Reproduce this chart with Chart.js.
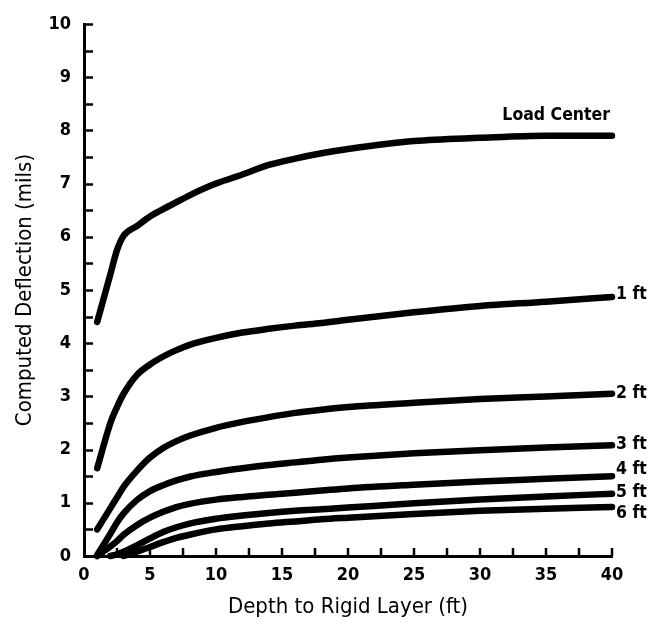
<!DOCTYPE html>
<html>
<head>
<meta charset="utf-8">
<script src="https://cdn.jsdelivr.net/npm/chart.js@4.4.1/dist/chart.umd.min.js"></script>
<style>
  html, body { margin: 0; padding: 0; background: #fff; }
  #wrap { width: 654px; height: 625px; }
</style>
</head>
<body>
<div id="wrap"><canvas id="c" width="654" height="625"></canvas></div>
<script>
// ---- data ----
const depths = [1, 2, 2.5, 3, 4, 5, 6, 7, 8, 10, 12, 14, 16, 18, 20, 25, 30, 35, 40];
const loadCenter = [4.4, 5.3, 5.75, 6.02, 6.2, 6.38, 6.52, 6.65, 6.78, 7.0, 7.17, 7.35, 7.47, 7.57, 7.65, 7.8, 7.86, 7.9, 7.9];
const ft1 = [1.65, 2.5, 2.8, 3.05, 3.4, 3.6, 3.75, 3.87, 3.97, 4.1, 4.2, 4.27, 4.33, 4.38, 4.44, 4.58, 4.7, 4.78, 4.87];
const ft2 = [0.5, 0.9, 1.1, 1.3, 1.6, 1.85, 2.03, 2.16, 2.26, 2.41, 2.52, 2.61, 2.69, 2.75, 2.8, 2.88, 2.95, 3.0, 3.05];
const ft3 = [0.02, 0.42, 0.63, 0.8, 1.05, 1.22, 1.33, 1.42, 1.49, 1.58, 1.65, 1.71, 1.76, 1.81, 1.85, 1.93, 1.99, 2.04, 2.08];
const ft4 = [0.0, 0.18, 0.28, 0.4, 0.58, 0.72, 0.83, 0.92, 0.98, 1.06, 1.11, 1.15, 1.19, 1.23, 1.27, 1.34, 1.4, 1.45, 1.5];
const ft5 = [null, 0.0, 0.03, 0.08, 0.2, 0.33, 0.45, 0.54, 0.61, 0.7, 0.76, 0.81, 0.85, 0.88, 0.91, 0.99, 1.06, 1.12, 1.17];
const ft6 = [null, null, null, 0.0, 0.08, 0.17, 0.26, 0.34, 0.4, 0.5, 0.56, 0.61, 0.65, 0.69, 0.72, 0.79, 0.85, 0.89, 0.92];
const seriesNames = ['Load Center', '1 ft', '2 ft', '3 ft', '4 ft', '5 ft', '6 ft'];
const seriesValues = [loadCenter, ft1, ft2, ft3, ft4, ft5, ft6];
const xTickValues = [0, 5, 10, 15, 20, 25, 30, 35, 40];
const yTickValues = [0, 1, 2, 3, 4, 5, 6, 7, 8, 9, 10];
const xTitle = 'Depth to Rigid Layer (ft)';
const yTitle = 'Computed Deflection (mils)';

// ---- styling (not data) ----
const FONT = "'DejaVu Sans Condensed','Liberation Sans',sans-serif";
// label placement relative to the last point of each line: [dx, dy, align]
const labelPlacement = [[-2, -20, 'right'], [4, -2, 'left'], [4, 0, 'left'], [4, -1, 'left'], [4, -7, 'left'], [4, -1, 'left'], [4, 6, 'left']];

const datasets = seriesNames.map((name, i) => ({
  label: name,
  data: depths.map((d, j) => ({ x: d, y: seriesValues[i][j] })),
  borderColor: '#000',
  borderWidth: 6.5,
  pointRadius: 0,
  fill: false,
  cubicInterpolationMode: 'monotone',
  borderCapStyle: 'round',
  borderJoinStyle: 'round',
  clip: false,
  spanGaps: false
}));

const innerTicks = {
  id: 'innerTicks',
  afterDraw(chart) {
    const { ctx, chartArea: a, scales: { x, y } } = chart;
    ctx.save();
    ctx.strokeStyle = '#000';
    ctx.lineWidth = 2.5;
    ctx.beginPath();
    for (let v = 0.5; v <= 10.001; v += 0.5) {
      const py = Math.round(y.getPixelForValue(v)) + 0.5;
      ctx.moveTo(a.left, py);
      ctx.lineTo(a.left + 9, py);
    }
    for (let v = 2.5; v <= 40.001; v += 2.5) {
      const px = Math.round(x.getPixelForValue(v));
      ctx.moveTo(px, a.bottom);
      ctx.lineTo(px, a.bottom - 8);
    }
    ctx.stroke();
    ctx.restore();
  }
};

const endLabels = {
  id: 'endLabels',
  afterDatasetsDraw(chart) {
    const { ctx } = chart;
    ctx.save();
    ctx.fillStyle = '#000';
    ctx.font = "bold 17.5px " + FONT;
    ctx.textBaseline = 'middle';
    chart.data.datasets.forEach((ds, i) => {
      const meta = chart.getDatasetMeta(i);
      const pt = meta.data[meta.data.length - 1];
      const [dx, dy, align] = labelPlacement[i];
      ctx.textAlign = align;
      ctx.fillText(ds.label, pt.x + dx, pt.y + dy);
    });
    ctx.restore();
  }
};

new Chart(document.getElementById('c'), {
  type: 'line',
  data: { datasets },
  options: {
    responsive: false,
    animation: false,
    devicePixelRatio: 1,
    layout: { padding: { left: 0, right: 42, top: 24, bottom: 0 } },
    plugins: { legend: { display: false }, tooltip: { enabled: false } },
    scales: {
      x: {
        type: 'linear',
        min: 0, max: 40,
        afterFit(s) { s.height = 69; },
        afterBuildTicks(s) { s.ticks = xTickValues.map(v => ({ value: v })); },
        grid: { display: false, drawTicks: false },
        border: { display: true, color: '#000', width: 3 },
        ticks: { color: '#000', padding: 9, maxRotation: 0, font: { family: FONT, size: 18, weight: 'bold' } },
        title: { display: true, text: xTitle, color: '#000', padding: { top: 0, bottom: 5 }, font: { family: FONT, size: 22 } }
      },
      y: {
        type: 'linear',
        min: 0, max: 10,
        afterFit(s) { s.width = 84; },
        afterBuildTicks(s) { s.ticks = yTickValues.map(v => ({ value: v })); },
        grid: { display: false, drawTicks: false },
        border: { display: true, color: '#000', width: 3 },
        ticks: { color: '#000', padding: 13, font: { family: FONT, size: 18, weight: 'bold' } },
        title: { display: true, text: yTitle, color: '#000', padding: { top: 12, bottom: 0 }, font: { family: FONT, size: 22 } }
      }
    }
  },
  plugins: [innerTicks, endLabels]
});
</script>
</body>
</html>
